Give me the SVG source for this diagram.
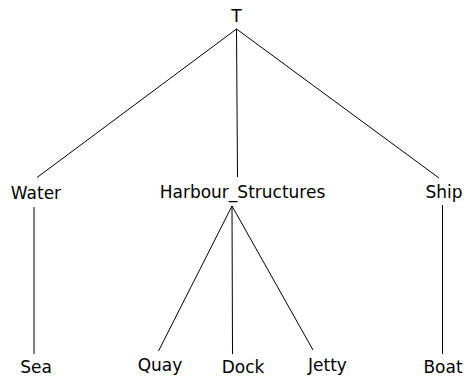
<svg xmlns="http://www.w3.org/2000/svg" width="465" height="378" viewBox="0 0 465 378">
<style>
text{font-family:"DejaVu Sans",sans-serif;font-size:17px;fill:#000;text-anchor:middle}
line{stroke:#000;stroke-width:1}
</style>
<rect width="465" height="378" fill="#fff"/>
<g id="connectors">
<line x1="236.5" y1="29" x2="37" y2="177.5"/>
<line x1="236.5" y1="29" x2="237.5" y2="177"/>
<line x1="236.5" y1="29" x2="439" y2="178"/>
<line x1="34" y1="207" x2="34" y2="354"/>
<line x1="232" y1="206" x2="158.5" y2="351"/>
<line x1="232" y1="206" x2="232.5" y2="354"/>
<line x1="232" y1="206" x2="313" y2="350"/>
<line x1="442.5" y1="205" x2="442.5" y2="354"/>
</g>
<g id="T"><text x="236.5" y="22">T</text></g>
<g id="Water"><text x="36" y="199">Water</text></g>
<g id="Harbour_Structures"><text x="242.5" y="198">Harbour_Structures</text></g>
<g id="Ship"><text x="444" y="198">Ship</text></g>
<g id="Sea"><text x="36" y="373">Sea</text></g>
<g id="Quay"><text x="160" y="371">Quay</text></g>
<g id="Dock"><text x="243" y="373">Dock</text></g>
<g id="Jetty"><text x="327.5" y="371">Jetty</text></g>
<g id="Boat"><text x="443" y="373">Boat</text></g>
</svg>
